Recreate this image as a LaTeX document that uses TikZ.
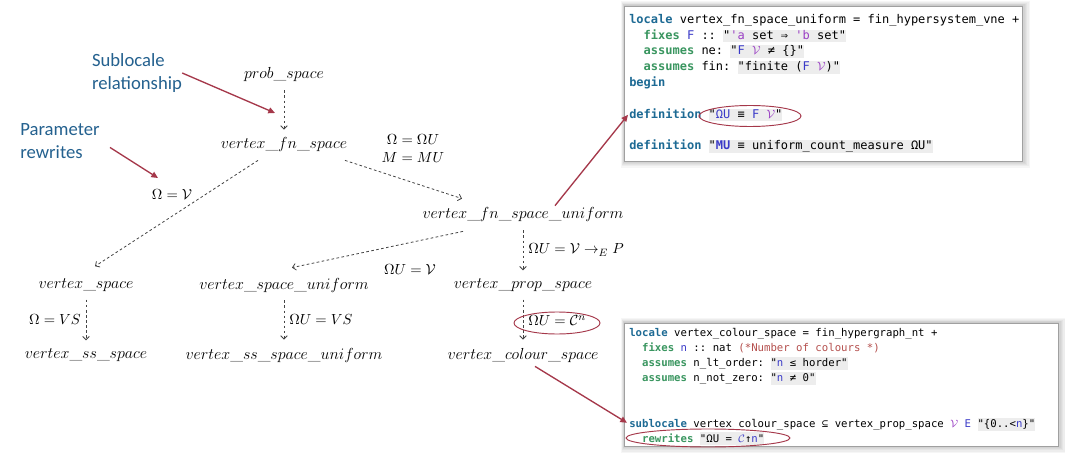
\documentclass[tikz,border=0pt]{standalone}
\usepackage{fontspec}
\setsansfont{Carlito}
\setmonofont{DejaVu Sans Mono}
\usetikzlibrary{arrows.meta, positioning, shapes.geometric, calc}
\definecolor{cnote}{HTML}{24618F}
\definecolor{cred}{HTML}{A5384A}
\definecolor{cgrey}{HTML}{444444}
\definecolor{ckw}{HTML}{1D6A94}
\definecolor{cfix}{HTML}{3A9660}
\definecolor{cvar}{HTML}{3A3AC8}
\definecolor{cfree}{HTML}{9A40C4}
\definecolor{ccmt}{HTML}{B5504E}
\definecolor{cstr}{HTML}{EDEDED}
\definecolor{cframe}{HTML}{A0A0A0}
\newcommand\kwblue[1]{\textcolor{ckw}{\bfseries #1}}
\newcommand\kwgreen[1]{\textcolor{cfix}{\bfseries #1}}
\newcommand\isvar[1]{\textcolor{cvar}{#1}}
\newcommand\isfree[1]{\textcolor{cfree}{#1}}
\newcommand\iscmt[1]{\textcolor{ccmt}{#1}}
\newcommand\qstr[1]{{\setlength\fboxsep{0pt}\colorbox{cstr}{\rule[-2.4pt]{0pt}{9.6pt}#1}}}
\newcommand\calV{\isfree{\(\mathcal{V}\)}}
\newcommand\calC{\isvar{\(\mathcal{C}\)}}
\newcommand\codeind{\phantom{xx}}
\tikzset{
  loc/.style={font=\fontsize{13}{15}\selectfont, inner sep=0pt},
  rw/.style={font=\fontsize{11}{13.5}\selectfont, inner sep=0pt},
  sub/.style={draw=cgrey, line width=0.6pt, dash pattern=on 2pt off 1.8pt, -{Straight Barb[length=2.5pt,width=5pt]}},
  hint/.style={draw=cred, line width=1pt, -{Triangle[length=5pt,width=4.5pt]}},
  note/.style={font=\sffamily\fontsize{14}{17}\selectfont, text=cnote, align=left, inner sep=0pt},
  codebox/.style={draw=cframe, fill=white, line width=0.5pt, anchor=north west, inner sep=0pt},
  isaline/.style={font=\ttfamily\fontsize{9}{11}\selectfont, anchor=west, inner sep=0pt, text height=7pt, text depth=2pt},
  isasmall/.style={isaline, font=\ttfamily\fontsize{8}{10}\selectfont, text height=6.3pt, text depth=1.8pt},
  ring/.style={draw=cred, line width=0.7pt, ellipse, inner sep=0pt},
}
\begin{document}
\begin{tikzpicture}[x=0.75pt, y=-0.75pt]
  \fill[white] (0,0) rectangle (1065,453);
  \useasboundingbox (0,0) rectangle (1065,453);
  % locale hierarchy
  \node[loc] (prob) at (284,75) {$prob\_space$};
  \node[loc] (fn) at (284,145) {$vertex\_fn\_space$};
  \node[loc] (fnu) at (523,215) {$vertex\_fn\_space\_uniform$};
  \node[loc] (vs) at (86,285) {$vertex\_space$};
  \node[loc] (vsu) at (284,285) {$vertex\_space\_uniform$};
  \node[loc] (vps) at (523,285) {$vertex\_prop\_space$};
  \node[loc] (vss) at (86,355) {$vertex\_ss\_space$};
  \node[loc] (vssu) at (284,355) {$vertex\_ss\_space\_uniform$};
  \node[loc] (vcs) at (523,355) {$vertex\_colour\_space$};
  \draw[sub, shorten <=6pt, shorten >=6pt] (prob) -- (fn);
  \draw[sub] ($(fn.south)+(61,8)$) -- ($(fnu.north)+(-61,-9)$);
  \draw[sub] ($(fn.south)+(-26,8)$) -- ($(vs.north)+(9,-12)$);
  \draw[sub] ($(fnu.south)+(-60,9)$) -- ($(vsu.north)+(8,-10)$);
  \draw[sub, shorten <=6pt, shorten >=6pt] (fnu) -- (vps);
  \draw[sub, shorten <=6pt, shorten >=6pt] (vs) -- (vss);
  \draw[sub, shorten <=6pt, shorten >=6pt] (vsu) -- (vssu);
  \draw[sub, shorten <=6pt, shorten >=6pt] (vps) -- (vcs);
  % rewrites along the edges
  \node[rw, align=center] (rwfnu) at (413,149) {$\Omega = \Omega U$\\$M = MU$};
  \node[rw] (rwvs) at (172,195) {$\Omega = \mathcal{V}$};
  \node[rw] (rwvsu) at (410,270) {$\Omega U = \mathcal{V}$};
  \node[rw, anchor=west] (rwvps) at (528,250) {$\Omega U = \mathcal{V} \rightarrow_E P$};
  \node[rw, anchor=east] (rwvss) at (81,320) {$\Omega = VS$};
  \node[rw, anchor=west] (rwvssu) at (289,320) {$\Omega U = VS$};
  \node[rw, anchor=west] (rwvcs) at (528,321) {$\Omega U = \mathcal{C}^n$};
  \node[ring, minimum width=64.5pt, minimum height=16.5pt] (cnring) at (557,323) {};
  % notes
  \node[note] (slnote) at (137,73) {Sublocale\\relationship};
  \node[note] (prnote) at (60,141) {Parameter\\rewrites};
  \coordinate (subrel) at (275,113);
  \coordinate (prmrw) at (158,178);
  \draw[hint] (slnote.east) -- (subrel);
  \draw[hint, shorten <=9pt] (prnote.east) -- (prmrw);
  % code excerpt: vertex_fn_space_uniform
  \foreach \g in {1,...,6}
    \fill[black, opacity=0.035] ($(624,6)+(-\g*0.5,-\g*0.8)$) rectangle ($(1022,161)+(\g*1.3,\g*1.1)$);
  \node[codebox, minimum width=298.5pt, minimum height=116.25pt] (fnubox) at (624,6) {};
  \node[isaline] (fl1) at (629,20) {\kwblue{locale} vertex\_fn\_space\_uniform = fin\_hypersystem\_vne +};
  \node[isaline] (fl2) at (629,35.8) {\codeind\kwgreen{fixes} \isvar{F} :: \qstr{"\isfree{'a} set ⇒ \isfree{'b} set"}};
  \node[isaline] (fl3) at (629,51.6) {\codeind\kwgreen{assumes} ne: \qstr{"\isvar{F} \calV{} ≠ \{\}"}};
  \node[isaline] (fl4) at (629,67.4) {\codeind\kwgreen{assumes} fin: \qstr{"finite (\isvar{F} \calV)"}};
  \node[isaline] (fl5) at (629,83.2) {\kwblue{begin}};
  \node[isaline] (fl7) at (629,114.8) {\kwblue{definition} \qstr{"\isvar{ΩU} ≡ \isvar{F} \calV"}};
  \node[isaline] (fl9) at (629,146.4) {\kwblue{definition} \qstr{"\isvar{\bfseries MU} ≡ uniform\_count\_measure ΩU"}};
  \node[ring, minimum width=76.5pt, minimum height=15.75pt] (defring) at (750,116) {};
  % code excerpt: vertex_colour_space
  \foreach \g in {1,...,6}
    \fill[black, opacity=0.035] ($(624,323)+(-\g*0.5,-\g*0.8)$) rectangle ($(1058,446)+(\g*1.3,\g*1.1)$);
  \node[codebox, minimum width=325.5pt, minimum height=92.25pt] (vcsbox) at (624,323) {};
  \node[isasmall] (cl1) at (629,333) {\kwblue{locale} vertex\_colour\_space = fin\_hypergraph\_nt +};
  \node[isasmall] (cl2) at (629,348.3) {\codeind\kwgreen{fixes} \isvar{n} :: nat \iscmt{(*Number of colours *)}};
  \node[isasmall] (cl3) at (629,363.6) {\codeind\kwgreen{assumes} n\_lt\_order: \qstr{"\isvar{n} ≤ horder"}};
  \node[isasmall] (cl4) at (629,378.9) {\codeind\kwgreen{assumes} n\_not\_zero: \qstr{"\isvar{n} ≠ 0"}};
  \node[isasmall] (cl7) at (629,424.8) {\kwblue{sublocale} vertex\_colour\_space ⊆ vertex\_prop\_space \calV{} \isvar{E} \qstr{"\{0..<\isvar{n}\}"}};
  \node[isasmall] (cl8) at (629,439) {\codeind\kwgreen{rewrites} \qstr{"ΩU = \calC↑\isvar{n}"}};
  \node[ring, minimum width=123pt, minimum height=13.5pt] (rwring) at (708,438) {};
  % links to the code
  \draw[hint] ($(fnu.north)+(32,-2)$) -- ($(fl7.west)+(-1,0)$);
  \draw[hint] ($(vcs.south)+(12,4)$) -- ($(cl7.west)+(-2,-2)$);
\end{tikzpicture}
\end{document}
